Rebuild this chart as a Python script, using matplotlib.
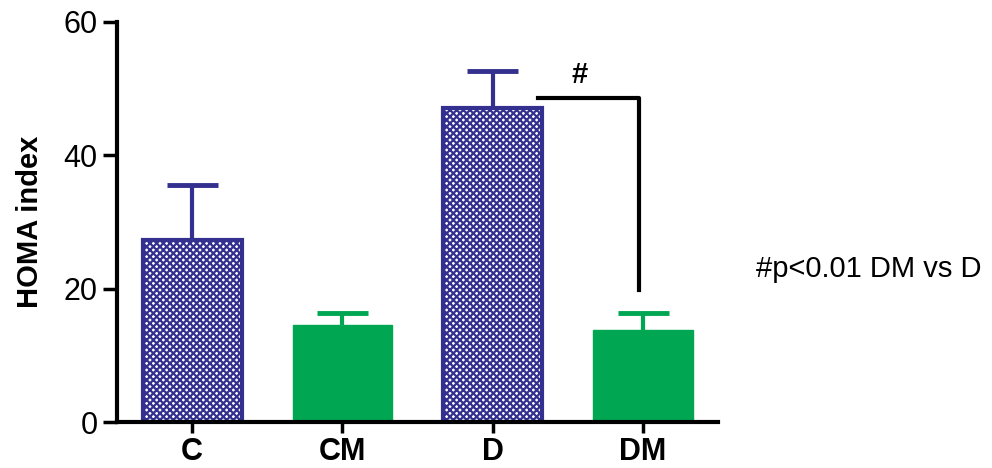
import matplotlib.pyplot as plt
import numpy as np

plt.rcParams['font.family'] = ['Liberation Sans', 'DejaVu Sans']
plt.rcParams['hatch.linewidth'] = 1.6

# Data
groups = ["C", "CM", "D", "DM"]
means = [27.3, 14.6, 47.1, 13.8]
sem = [8.3, 1.8, 5.6, 2.5]
hatched = [True, False, True, False]

BLUE = "#33308f"
GREEN = "#00a651"

fig = plt.figure(figsize=(9.92, 4.68), dpi=100)
ax = fig.add_axes([0.118, 0.098, 0.606, 0.855])

x = np.arange(len(groups))
for i in range(len(groups)):
    c = BLUE if hatched[i] else GREEN
    # upper error bar only
    ax.vlines(x[i], means[i], means[i] + sem[i], color=c, linewidth=3, zorder=1)
    ax.hlines(means[i] + sem[i], x[i] - 0.17, x[i] + 0.17, color=c,
              linewidth=3.5, zorder=1)
    if hatched[i]:
        ax.bar(x[i], means[i], width=0.66, color="white", edgecolor=BLUE,
               hatch="xxxxx", linewidth=3, zorder=2)
    else:
        ax.bar(x[i], means[i], width=0.66, color=GREEN, edgecolor=GREEN,
               linewidth=1, zorder=2)

# significance bracket D -> DM
ax.plot([x[2] + 0.3, x[3] - 0.03, x[3] - 0.03], [48.6, 48.6, 19.8],
        color="black", linewidth=3, zorder=3)
ax.text(2.58, 49.9, "#", ha="center", va="bottom",
        fontsize=21, fontweight="bold")

fig.text(0.762, 0.425, "#p<0.01 DM vs D", fontsize=21, va="center", ha="left")

ax.set_xlim(-0.5, 3.5)
ax.set_ylim(0, 60)
ax.set_yticks([0, 20, 40, 60])
ax.set_xticks(x)
ax.set_xticklabels(groups, fontsize=22, fontweight="bold")
ax.tick_params(axis='y', labelsize=22, width=2.5, length=10, pad=4)
ax.tick_params(axis='x', width=2.5, length=8, pad=3)
ax.set_ylabel("HOMA index", fontsize=21, fontweight="bold", labelpad=14)

ax.spines['top'].set_visible(False)
ax.spines['right'].set_visible(False)
ax.spines['left'].set_linewidth(3)
ax.spines['bottom'].set_linewidth(3)

fig.savefig("out.png", dpi=100)
